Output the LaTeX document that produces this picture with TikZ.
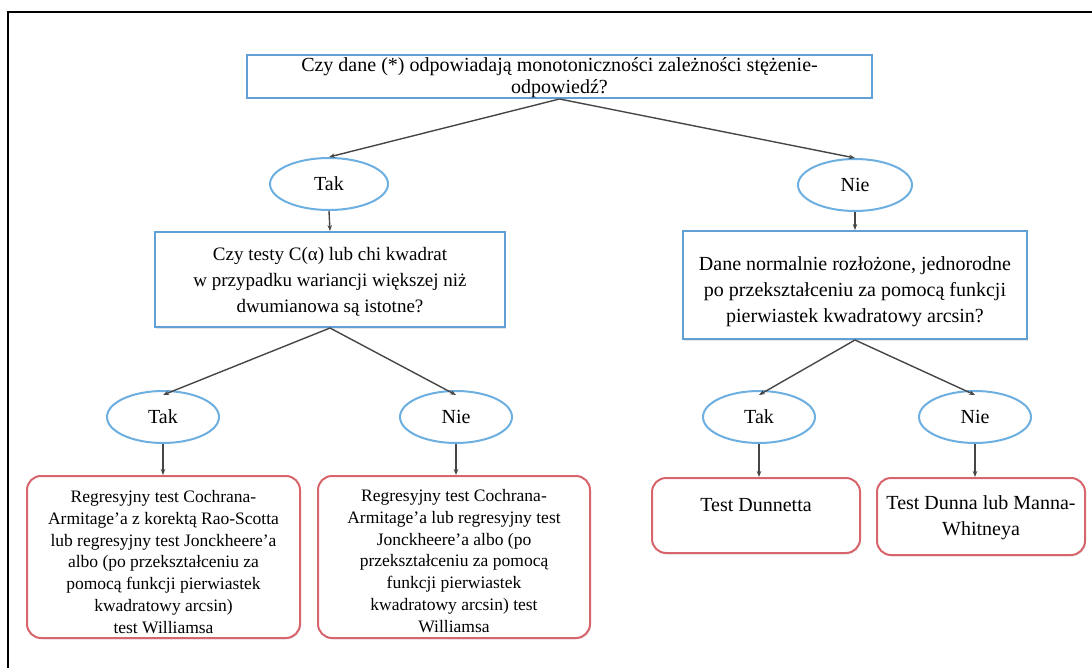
\documentclass[tikz,border=0pt]{standalone}
\usepackage{fontspec}
\setmainfont{Liberation Serif}
\usetikzlibrary{arrows.meta,shapes.geometric,shadows}
\definecolor{qblue}{RGB}{96,160,214}
\definecolor{eblue}{RGB}{110,175,225}
\definecolor{rred}{RGB}{216,100,108}
\definecolor{arr}{RGB}{70,70,70}
\tikzset{
  txt/.style={align=center, text=black, inner sep=0pt},
  big/.style={font=\fontsize{20}{26}\selectfont},
  tight/.style={font=\fontsize{20}{22}\selectfont},
  mid/.style={font=\fontsize{19}{26}\selectfont},
  small/.style={font=\fontsize{17.5}{21.8}\selectfont},
  qbox/.style={draw=qblue, line width=2pt, rectangle,
    drop shadow={shadow xshift=1pt, shadow yshift=-1.5pt, fill=black!20}, fill=white},
  ans/.style={txt, big, draw=eblue, line width=2pt, ellipse, fill=white,
    minimum width=112pt, minimum height=52pt},
  res/.style={draw=rred, line width=2pt, rectangle, rounded corners=14pt, fill=white,
    drop shadow={shadow xshift=1pt, shadow yshift=-1.5pt, fill=black!15}},
  link/.style={draw=arr, line width=1.4pt, -{Stealth[length=6pt,width=4.5pt]}}
}
\begin{document}
\begin{tikzpicture}[x=1pt,y=-1pt]
\useasboundingbox (0,0) rectangle (1092,668);
% outer frame (left and top edges)
\draw[line width=2.5pt, black] (8,668) -- (8,12) -- (1092,12);

% first question
\node[qbox, minimum width=625pt, minimum height=43pt] (q1) at (559.5,76.5) {};
\node[txt, tight] (q1t) at ([yshift=-1pt]q1.center)
  {Czy dane (*) odpowiadają monotoniczności zależności stężenie-\\odpowiedź?};

% first answers
\node[ans, minimum width=118pt] (t1) at (329,184) {Tak};
\node[ans, minimum width=114pt] (n1) at (855,185) {Nie};

% second-level questions
\node[qbox, minimum width=350pt, minimum height=95pt] (q2) at (330,279.5) {};
\node[txt, mid] (q2t) at ([yshift=-2pt]q2.center)
  {Czy testy C(α) lub chi kwadrat\\w przypadku wariancji większej niż\\dwumianowa są istotne?};
\node[qbox, minimum width=344pt, minimum height=108pt] (q3) at (855,285) {};
\node[txt, big] (q3t) at ([yshift=-7pt]q3.center)
  {Dane normalnie rozłożone, jednorodne\\po przekształceniu za pomocą funkcji\\pierwiastek kwadratowy arcsin?};

% second-level answers
\node[ans] (t2) at (163,417) {Tak};
\node[ans] (n2) at (456,417) {Nie};
\node[ans] (t3) at (759,417) {Tak};
\node[ans] (n3) at (975,417) {Nie};

% results
\node[res, minimum width=273pt, minimum height=162pt] (r1) at (163.5,557) {};
\node[txt, small] (r1t) at ([yshift=-5pt]r1.center)
  {Regresyjny test Cochrana-\\Armitage’a z korektą Rao-Scotta\\lub regresyjny test Jonckheere’a\\albo (po przekształceniu za\\pomocą funkcji pierwiastek\\kwadratowy arcsin)\\test Williamsa};
\node[res, minimum width=272pt, minimum height=162pt] (r2) at (454,557) {};
\node[txt, small] (r2t) at ([yshift=-4pt]r2.center)
  {Regresyjny test Cochrana-\\Armitage’a lub regresyjny test\\Jonckheere’a albo (po\\przekształceniu za pomocą\\funkcji pierwiastek\\kwadratowy arcsin) test\\Williamsa};
\node[res, minimum width=208pt, minimum height=75pt] (r3) at (756,515.5) {};
\node[txt, big] (r3t) at ([yshift=10pt]r3.center) {Test Dunnetta};
\node[res, minimum width=208pt, minimum height=77pt] (r4) at (981,516.5) {};
\node[txt, big] (r4t) at ([yshift=-1pt]r4.center) {Test Dunna lub Manna-\\Whitneya};

% connectors
\draw[link] (q1.south) -- (t1.north);
\draw[link] (q1.south) -- (n1.north);
\draw[link] (t1.south) -- (q2.north);
\draw[link] (n1.south) -- (q3.north);
\draw[link] (q2.south) -- ([yshift=-5pt]t2.north);
\draw[link] (q2.south) -- ([yshift=-5pt]n2.north);
\draw[link] (q3.south) -- ([yshift=-5pt]t3.north);
\draw[link] (q3.south) -- ([yshift=-5pt]n3.north);
\draw[link] (t2.south) -- (t2.south |- r1.north);
\draw[link] (n2.south) -- (n2.south |- r2.north);
\draw[link] (t3.south) -- (t3.south |- r3.north);
\draw[link] (n3.south) -- (n3.south |- r4.north);
\end{tikzpicture}
\end{document}
